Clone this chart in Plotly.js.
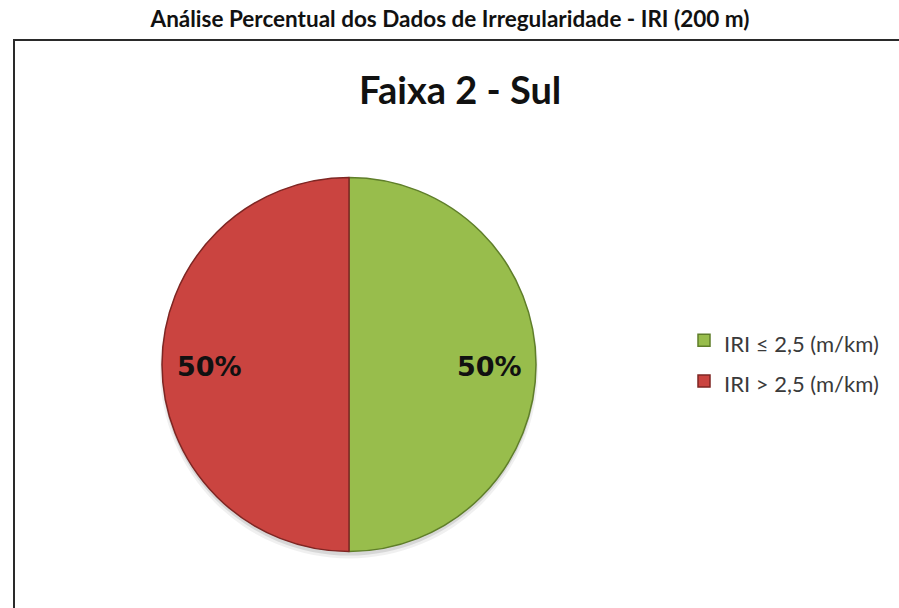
<!DOCTYPE html>
<html>
<head>
<meta charset="utf-8">
<script src="https://cdn.plot.ly/plotly-3.0.1.min.js"></script>
<style>
  html, body { margin: 0; padding: 0; background: #ffffff; }
  #chart { width: 899px; height: 608px; }
</style>
</head>
<body>
<div id="chart"></div>
<script>
// ---- data ----
const categories = ['IRI ≤ 2,5 (m/km)', 'IRI > 2,5 (m/km)'];
const values = [50, 50];
const sliceColors = ['#98BD4C', '#CA4440'];
const sliceEdges = ['#5F7E2A', '#7E2623'];
const pageTitle = 'Análise Percentual dos Dados de Irregularidade - IRI (200 m)';
const chartTitle = 'Faixa 2 - Sul';

// ---- layout helpers (pixel -> paper, margins are zero) ----
const W = 899, H = 608;
const px = x => x / W;
const py = y => 1 - y / H;

const cx = 349, cy = 364.5, R = 187;
const total = values.reduce((a, b) => a + b, 0);
const pctText = values.map(v => Math.round(v / total * 100) + '%');

const legendLabels = categories.map(c => '<span style="font-size:22px">' + c + '</span>');

const trace = {
  type: 'pie',
  labels: legendLabels,
  values: values,
  sort: false,
  direction: 'clockwise',
  rotation: 0,
  textinfo: 'none',
  hoverinfo: 'percent',
  marker: { colors: sliceColors, line: { color: sliceEdges, width: 1.5 } },
  domain: { x: [px(cx - R), px(cx + R)], y: [py(cy + R), py(cy - R)] },
  showlegend: true
};

// percent labels placed near the outer part of each half
const labelOffsets = [140, -140];
const annotations = pctText.map((t, i) => ({
  text: t, showarrow: false, xref: 'paper', yref: 'paper',
  x: px(cx + labelOffsets[i]), y: py(367), xanchor: 'center', yanchor: 'middle',
  font: { family: 'DejaVu Sans', size: 27, color: '#111111', weight: 'bold' }
}));
annotations.push({
  text: '<b>' + chartTitle + '</b>', showarrow: false, xref: 'paper', yref: 'paper',
  x: px(460), y: py(89), xanchor: 'center', yanchor: 'middle',
  font: { family: 'Lato', size: 38, color: '#111111' }
});

const shapes = [
  // outer frame
  { type: 'rect', xref: 'paper', yref: 'paper', x0: px(14), x1: px(905), y0: py(620), y1: py(40),
    line: { color: '#2a2a2a', width: 2 }, fillcolor: 'rgba(0,0,0,0)', layer: 'below' },
  // soft shadow under the pie
  { type: 'circle', xref: 'paper', yref: 'paper', x0: px(cx - R - 2), x1: px(cx + R + 2), y0: py(cy + R + 7), y1: py(cy - R + 3),
    line: { width: 0 }, fillcolor: 'rgba(0,0,0,0.06)', layer: 'below' },
  { type: 'circle', xref: 'paper', yref: 'paper', x0: px(cx - R - 0.5), x1: px(cx + R + 0.5), y0: py(cy + R + 4), y1: py(cy - R + 2),
    line: { width: 0 }, fillcolor: 'rgba(0,0,0,0.10)', layer: 'below' }
];

const layout = {
  width: W, height: H,
  margin: { l: 0, r: 0, t: 0, b: 0 },
  paper_bgcolor: '#ffffff', plot_bgcolor: '#ffffff',
  title: {
    text: '<b>' + pageTitle + '</b>',
    font: { family: 'Lato', size: 22.5, color: '#111111' },
    x: px(450), xanchor: 'center', xref: 'paper',
    y: py(19), yanchor: 'middle', yref: 'paper'
  },
  legend: {
    x: px(684), xanchor: 'left', y: py(361), yanchor: 'middle',
    font: { family: 'Lato', size: 29, color: '#3a3a3a' },
    bgcolor: 'rgba(0,0,0,0)', borderwidth: 0
  },
  annotations: annotations,
  shapes: shapes,
  showlegend: true
};

Plotly.newPlot('chart', [trace], layout, { displayModeBar: false, staticPlot: true });
</script>
</body>
</html>
